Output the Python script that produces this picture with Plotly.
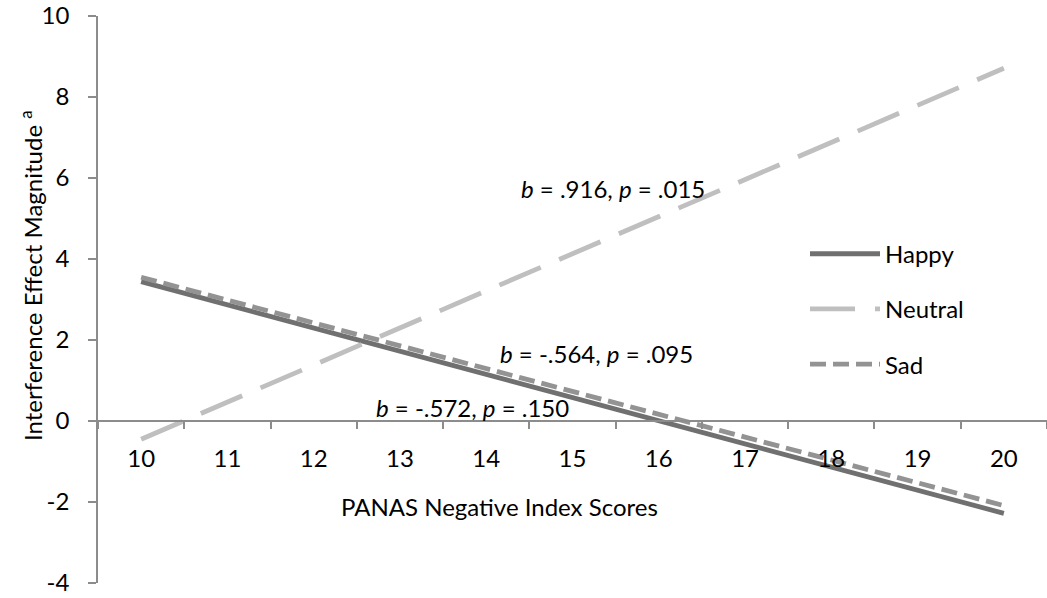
import plotly.graph_objects as go

# PANAS negative index score categories shown on the x axis
categories = ["10", "11", "12", "13", "14", "15", "16", "17", "18", "19", "20"]

# Simple-slope endpoints (predicted interference effect at the lowest and highest score)
x_ends = ["10", "20"]
happy = [3.44, -2.28]
neutral = [-0.45, 8.71]
sad = [3.55, -2.09]

y_ticks = [-4, -2, 0, 2, 4, 6, 8, 10]
y_tick_text = [str(v) for v in y_ticks]

FONT = "Lato"
FS = 24
AXIS_GREY = "#8c8c8c"

fig = go.Figure()

fig.add_trace(go.Scatter(
    x=x_ends, y=happy, mode="lines", name="Happy", legendgroup="a",
    line=dict(color="#707070", width=4.8),
))
fig.add_trace(go.Scatter(
    x=x_ends, y=neutral, mode="lines", name="Neutral", legendgroup="b",
    line=dict(color="#bfbfbf", width=4.8, dash="45px,20px"),
))
fig.add_trace(go.Scatter(
    x=x_ends, y=sad, mode="lines", name="Sad", legendgroup="c",
    line=dict(color="#939393", width=4.8, dash="16px,7px"),
))

y_min, y_max = -4, 10


def label(text, x, y, angle=0):
    return dict(text=text, xref="paper", yref="paper", x=x, y=y,
                xanchor="center", yanchor="middle", textangle=angle,
                showarrow=False, font=dict(size=FS))


fig.update_layout(
    width=1047, height=598,
    margin=dict(l=98, r=0, t=14, b=15),
    paper_bgcolor="white", plot_bgcolor="white",
    font=dict(family=FONT, size=FS, color="black"),
    showlegend=True,
    legend=dict(
        x=0.745, y=0.483, xanchor="left", yanchor="middle",
        traceorder="grouped", tracegroupgap=21,
        itemwidth=70, font=dict(size=FS), bgcolor="rgba(0,0,0,0)",
    ),
    xaxis=dict(
        type="category", categoryorder="array", categoryarray=categories,
        range=[-0.5, 10.5], tickson="boundaries",
        anchor="free", position=(0 - y_min) / (y_max - y_min),
        showline=True, linecolor=AXIS_GREY, linewidth=1.5,
        ticks="outside", ticklen=7, tickcolor=AXIS_GREY, tickwidth=1.5,
        showgrid=False, zeroline=False,
        tickfont=dict(size=FS), ticklabelstandoff=16,
    ),
    yaxis=dict(
        range=[y_min, y_max], tickvals=y_ticks, ticktext=y_tick_text,
        showline=True, linecolor=AXIS_GREY, linewidth=1.5,
        ticks="outside", ticklen=8, tickcolor=AXIS_GREY, tickwidth=1.5,
        showgrid=False, zeroline=False, ticklabeloverflow="allow",
        tickfont=dict(size=FS), ticklabelstandoff=14,
    ),
    annotations=[
        label("PANAS Negative Index Scores", 0.4236, 0.1353),
        label("Interference Effect Magnitude <sup>a</sup>", -0.0706, 0.5413, -90),
        label("<i>b</i> = .916, <i>p</i> = .015", 0.5427, 0.6960),
        label("<i>b</i> = -.564, <i>p</i> = .095", 0.5258, 0.4042),
        label("<i>b</i> = -.572, <i>p</i> = .150", 0.3941, 0.3093),
    ],
)

fig.write_html("out.html")
